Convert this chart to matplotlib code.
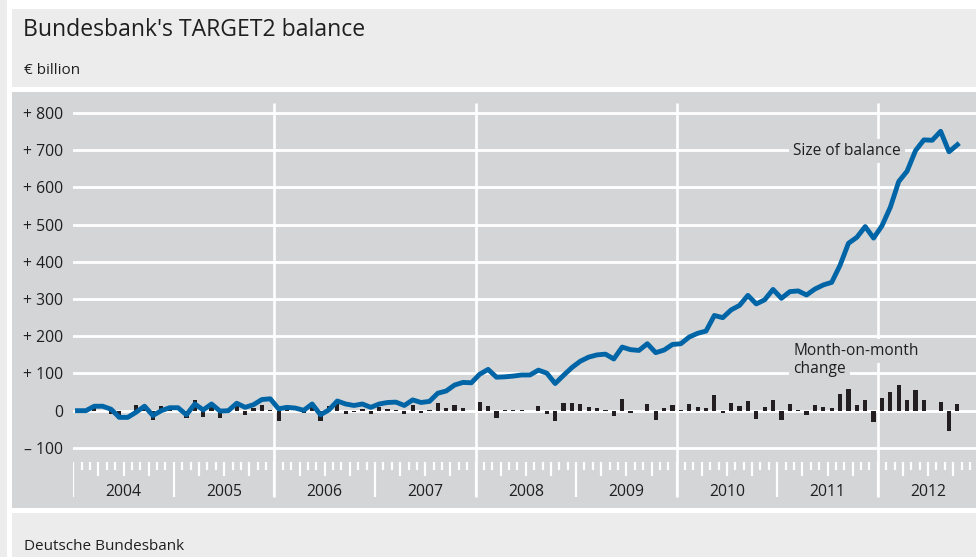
import matplotlib.pyplot as plt
from matplotlib.patches import Rectangle
import numpy as np

plt.rcParams["font.family"] = ["Open Sans", "DejaVu Sans"]

# Bundesbank TARGET2 balance, end of month, EUR bn (Jan 2004 .. Oct 2012)
years = [2004, 2005, 2006, 2007, 2008, 2009, 2010, 2011, 2012]

balance_2004 = [0, 0, 12, 12, 4, -18, -18, -4, 12, -13, 0, 8]
balance_2005 = [8, -11, 18, 2, 18, -1, 0, 20, 9, 16, 30, 32]
balance_2006 = [5, 9, 7, 1, 18, -11, 2, 26, 18, 14, 18, 9]
balance_2007 = [18, 22, 23, 14, 29, 22, 25, 47, 53, 69, 76, 75]
balance_2008 = [98, 111, 90, 91, 93, 96, 96, 109, 101, 73, 95, 116]
balance_2009 = [133, 144, 150, 152, 139, 171, 164, 162, 180, 156, 163, 178]
balance_2010 = [180, 198, 208, 214, 256, 250, 271, 283, 310, 287, 298, 326]
balance_2011 = [302, 320, 322, 311, 327, 338, 345, 391, 450, 466, 495, 464]
balance_2012 = [497, 547, 616, 644, 699, 728, 727, 751, 696, 715]

change_2004 = [-2, 0, 12, 0, -8, -22, 0, 14, 16, -25, 13, 8]
change_2005 = [0, -19, 29, -16, 16, -19, 1, 20, -11, 7, 14, 2]
change_2006 = [-27, 4, -2, -6, 17, -29, 13, 22, -8, -4, 4, -9]
change_2007 = [9, 4, 1, -9, 15, -7, 3, 22, 6, 16, 7, -1]
change_2008 = [23, 13, -21, 1, 2, 3, 0, 13, -8, -28, 22, 21]
change_2009 = [17, 11, 6, 2, -13, 32, -7, -2, 18, -24, 7, 15]
change_2010 = [2, 18, 10, 6, 42, -6, 21, 12, 27, -23, 11, 28]
change_2011 = [-24, 18, 2, -11, 16, 11, 7, 46, 59, 16, 29, -31]
change_2012 = [33, 50, 69, 28, 55, 29, -1, 24, -55, 19]

yticks = [-100, 0, 100, 200, 300, 400, 500, 600, 700, 800]
ytick_labels = ["\u2013 100", "0", "+ 100", "+ 200", "+ 300", "+ 400",
                "+ 500", "+ 600", "+ 700", "+ 800"]

balance = (balance_2004 + balance_2005 + balance_2006 + balance_2007 + balance_2008
           + balance_2009 + balance_2010 + balance_2011 + balance_2012)
change = (change_2004 + change_2005 + change_2006 + change_2007 + change_2008
          + change_2009 + change_2010 + change_2011 + change_2012)
# x in months, 0 = start of Jan 2004, points at month centres
months = np.arange(len(balance)) + 0.5

LIGHT = "#ebeceb"
PANEL = "#d4d5d7"
BLUE = "#0065a6"
BAR = "#231f20"
TEXT = "#1f1f1f"

W, H = 976, 557
fig = plt.figure(figsize=(W / 100, H / 100), dpi=100)
fig.patch.set_facecolor("white")


def box(x0, y0, x1, y1, color):
    fig.patches.append(Rectangle((x0 / W, 1 - y1 / H), (x1 - x0) / W, (y1 - y0) / H,
                                 transform=fig.transFigure, facecolor=color,
                                 edgecolor="none", zorder=-10))


box(0, 0, 7, H, LIGHT)
box(12, 9, W, 87, LIGHT)
box(12, 92, W, 508, PANEL)
box(12, 513, W, H, LIGHT)

fig.text(23 / W, 1 - 30 / H, "Bundesbank's TARGET2 balance", fontsize=16.6,
         color=TEXT, va="center", ha="left")
fig.text(24 / W, 1 - 70 / H, "\u20ac billion", fontsize=11, color=TEXT,
         va="center", ha="left")
fig.text(24 / W, 1 - 547 / H, "Deutsche Bundesbank", fontsize=11, color=TEXT,
         va="center", ha="left")

# plot area: 2004 starts at x=73px, 8.38px per month, 0.372px per EUR bn
x0px = 73.3
ax = fig.add_axes([x0px / W, 1 - 508 / H, (W - x0px) / W, (508 - 92) / H])
ax.patch.set_alpha(0)
ax.set_xlim(0, (W - x0px) / 8.38)
ax.set_ylim(-261.6, 856.7)
for s in ax.spines.values():
    s.set_visible(False)

ax.set_yticks(yticks, labels=ytick_labels)
ax.tick_params(axis="y", length=0, pad=7.4, labelsize=11.3, labelcolor=TEXT)
ax.set_xticks([])
ax.grid(axis="y", color="white", linewidth=2.0)
ax.set_axisbelow(True)

# year gridlines every second year, and the month/quarter/year tick strip
ax.vlines([24, 48, 72, 96], -232, 827, color="white", linewidth=1.9, zorder=0.5)
bounds = np.arange(0, 12 * len(years) + 1)
for m in bounds:
    if m % 12 == 0:
        bottom = -232
    elif m % 3 == 0:
        bottom = -176
    else:
        bottom = -160
    ax.vlines(m, bottom, -138, color="white", linewidth=1.6, zorder=0.5)

for i, yr in enumerate(years):
    ax.text(12 * i + 6, -218.5, str(yr), ha="center", va="center",
            fontsize=11.3, color=TEXT)

ax.bar(months, change, width=0.5, color=BAR, zorder=1)
ax.plot(months, balance, color=BLUE, linewidth=3.5, zorder=2)

lab = dict(ha="left", va="center", fontsize=11.2, color=TEXT, zorder=3,
           fontweight="medium",
           bbox=dict(facecolor=PANEL, edgecolor="none", pad=3))
ax.text(85.9, 698, "Size of balance", **lab)
ax.text(85.9, 160.5, "Month-on-month", **lab)
ax.text(85.9, 112, "change", **lab)

fig.savefig("out.png", dpi=100)
